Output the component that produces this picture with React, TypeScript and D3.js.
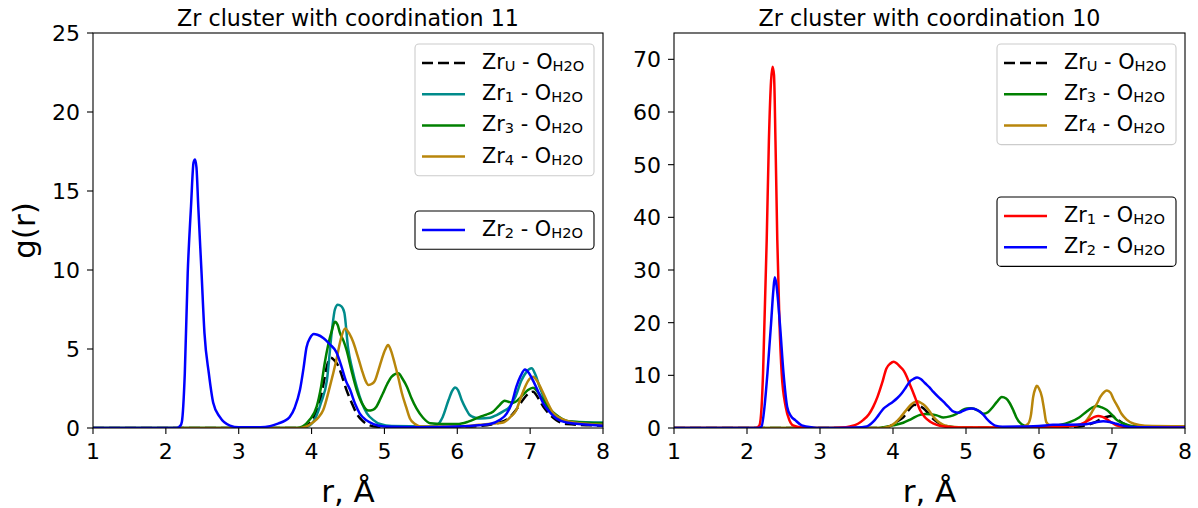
import React from "react";
import * as d3 from "d3";

type Pt = [number, number];

// ---------- Data: left panel (coordination 11) ----------
const zrU_L: Pt[] = [[1,0],[3.8,0],[3.95,0.2],[4.05,0.9],[4.12,1.8],[4.18,3.2],[4.21,3.9],[4.26,4.45],[4.31,4.3],[4.37,3.9],[4.43,3.1],[4.48,2.4],[4.55,1.6],[4.62,0.9],[4.7,0.45],[4.78,0.2],[4.9,0.08],[5.5,0.05],[6.2,0.1],[6.5,0.25],[6.7,0.6],[6.8,1.1],[6.9,1.77],[6.97,2.15],[7.04,2.3],[7.11,1.9],[7.18,1.35],[7.27,0.85],[7.36,0.5],[7.5,0.25],[8,0.15]];
const zr1_L: Pt[] = [[1,0],[3.85,0],[3.95,0.1],[4.05,0.6],[4.13,1.6],[4.21,3.0],[4.28,6.2],[4.32,7.5],[4.36,7.8],[4.41,7.7],[4.45,7.3],[4.5,5.1],[4.56,3.7],[4.62,2.6],[4.69,1.6],[4.76,0.93],[4.85,0.5],[4.94,0.25],[5.1,0.12],[5.6,0.1],[5.72,0.2],[5.8,0.7],[5.88,1.77],[5.93,2.35],[5.97,2.57],[6.01,2.4],[6.06,1.77],[6.12,1.2],[6.17,0.82],[6.25,0.65],[6.31,0.6],[6.45,0.65],[6.54,0.82],[6.63,1.05],[6.72,1.35],[6.8,2.0],[6.88,3.0],[6.95,3.55],[7.02,3.78],[7.07,3.4],[7.13,2.6],[7.2,1.8],[7.27,1.14],[7.36,0.75],[7.45,0.5],[7.6,0.4],[8,0.35]];
const zr3_L: Pt[] = [[1,0],[3.8,0],[3.88,0.1],[3.97,0.5],[4.07,1.35],[4.13,2.6],[4.18,4.1],[4.23,5.3],[4.28,6.2],[4.32,6.73],[4.36,6.5],[4.39,6.0],[4.44,5.5],[4.48,4.94],[4.55,3.6],[4.62,2.4],[4.7,1.5],[4.78,1.1],[4.84,1.15],[4.89,1.35],[4.94,1.8],[4.98,2.2],[5.04,2.8],[5.1,3.25],[5.19,3.46],[5.25,3.1],[5.31,2.6],[5.37,1.9],[5.44,1.24],[5.53,0.65],[5.63,0.3],[5.8,0.25],[6.0,0.25],[6.15,0.4],[6.31,0.7],[6.4,0.85],[6.49,1.03],[6.57,1.4],[6.65,1.73],[6.71,1.65],[6.77,1.6],[6.84,1.8],[6.9,2.09],[6.97,2.4],[7.04,2.55],[7.1,2.3],[7.18,1.77],[7.27,1.2],[7.36,0.82],[7.5,0.45],[8,0.3]];
const zr4_L: Pt[] = [[1,0],[3.85,0],[3.93,0.1],[4.03,0.4],[4.1,0.7],[4.16,1.14],[4.25,2.6],[4.34,4.3],[4.4,5.6],[4.46,6.3],[4.52,5.95],[4.57,5.46],[4.63,4.6],[4.69,3.67],[4.74,3.0],[4.78,2.72],[4.83,2.8],[4.87,3.0],[4.92,3.7],[4.96,4.3],[5.01,4.95],[5.05,5.25],[5.09,4.9],[5.14,4.1],[5.19,3.2],[5.24,2.2],[5.3,1.3],[5.35,0.6],[5.42,0.25],[5.49,0.1],[6.0,0.1],[6.3,0.2],[6.5,0.28],[6.63,0.35],[6.73,0.7],[6.81,1.14],[6.87,1.9],[6.93,2.6],[6.99,3.1],[7.04,3.25],[7.1,2.95],[7.16,2.4],[7.24,1.6],[7.32,0.93],[7.45,0.55],[7.6,0.35],[8,0.2]];
const zr2_L: Pt[] = [[1,0],[2.15,0],[2.2,0.15],[2.22,0.4],[2.26,3.46],[2.3,9.8],[2.345,14],[2.38,16.8],[2.4,17.0],[2.42,16.5],[2.445,14],[2.49,9.8],[2.53,6.0],[2.59,3.46],[2.65,1.6],[2.74,0.7],[2.88,0.15],[3.0,0.05],[3.3,0.05],[3.43,0.12],[3.55,0.3],[3.63,0.45],[3.7,0.7],[3.77,1.3],[3.84,2.4],[3.89,3.8],[3.93,5.1],[3.98,5.7],[4.03,5.95],[4.08,5.9],[4.16,5.7],[4.25,5.3],[4.34,4.8],[4.41,3.9],[4.47,3.0],[4.53,2.4],[4.6,1.5],[4.66,0.93],[4.75,0.5],[4.85,0.25],[5.0,0.1],[5.5,0.05],[6.0,0.1],[6.3,0.18],[6.45,0.25],[6.58,0.5],[6.68,0.93],[6.75,1.6],[6.81,2.6],[6.87,3.3],[6.93,3.7],[6.98,3.5],[7.04,3.0],[7.11,2.3],[7.18,1.56],[7.27,1.0],[7.36,0.6],[7.5,0.35],[8,0.15]];

// ---------- Data: right panel (coordination 10) ----------
const zrU_R: Pt[] = [[1,0],[3.85,0],[3.95,0.3],[4.05,1.2],[4.14,2.0],[4.22,3.5],[4.3,4.4],[4.36,4.2],[4.42,3.7],[4.47,3.0],[4.53,2.0],[4.6,1.2],[4.7,0.5],[4.85,0.15],[5.0,0.05],[6.3,0.1],[6.6,0.4],[6.75,1.0],[6.85,1.7],[6.92,2.1],[7.0,2.3],[7.06,1.8],[7.15,0.9],[7.3,0.3],[8,0.1]];
const zr3_R: Pt[] = [[1,0],[3.8,0],[3.89,0.2],[4.0,0.5],[4.14,1.0],[4.25,1.7],[4.37,2.5],[4.45,2.65],[4.51,2.6],[4.6,2.4],[4.69,2.0],[4.78,2.2],[4.87,2.7],[4.94,3.3],[5.01,3.7],[5.07,3.75],[5.12,3.6],[5.18,3.2],[5.24,2.7],[5.3,3.0],[5.35,3.7],[5.42,4.9],[5.49,5.9],[5.55,5.6],[5.6,4.7],[5.65,3.3],[5.69,2.0],[5.74,1.0],[5.8,0.45],[5.9,0.2],[6.1,0.3],[6.3,0.6],[6.42,1.1],[6.55,2.0],[6.65,3.1],[6.72,3.8],[6.79,4.2],[6.86,3.9],[6.93,3.4],[7.0,2.5],[7.06,1.6],[7.15,0.9],[7.25,0.45],[7.4,0.25],[8,0.2]];
const zr4_R: Pt[] = [[1,0],[3.85,0],[3.95,0.3],[4.03,1.0],[4.1,2.0],[4.17,3.2],[4.23,4.2],[4.28,4.8],[4.33,5.1],[4.38,4.8],[4.44,4.2],[4.5,3.2],[4.55,2.2],[4.62,1.2],[4.69,0.6],[4.8,0.25],[5.0,0.1],[5.6,0.1],[5.78,0.3],[5.85,0.8],[5.89,2.5],[5.92,5.9],[5.95,7.5],[5.97,8.0],[6.0,7.5],[6.04,5.9],[6.07,3.5],[6.1,1.1],[6.15,0.5],[6.25,0.3],[6.45,0.5],[6.6,0.7],[6.67,1.8],[6.74,3.4],[6.8,4.8],[6.84,5.9],[6.89,6.8],[6.93,7.1],[6.98,6.7],[7.02,5.5],[7.08,4.0],[7.13,2.7],[7.2,1.6],[7.3,0.8],[7.45,0.45],[8,0.35]];
const zr1_R: Pt[] = [[1,0],[2.12,0],[2.17,0.5],[2.2,4.05],[2.22,10.4],[2.27,35.7],[2.3,54.6],[2.33,66],[2.35,68.6],[2.37,67],[2.39,54.6],[2.415,35.7],[2.445,20],[2.475,10.4],[2.53,4.05],[2.58,1.5],[2.63,0.5],[2.75,0.1],[3.0,0],[3.3,0.1],[3.41,0.3],[3.52,0.8],[3.59,1.5],[3.67,2.6],[3.73,4.05],[3.79,6.0],[3.85,8.5],[3.91,11.3],[3.96,12.2],[4.01,12.6],[4.05,12.3],[4.1,11.6],[4.15,10.8],[4.19,9.7],[4.23,8.3],[4.28,6.6],[4.33,4.8],[4.37,3.4],[4.44,2.0],[4.51,1.2],[4.6,0.6],[4.7,0.3],[4.9,0.1],[6.0,0.1],[6.3,0.25],[6.52,0.5],[6.62,1.0],[6.7,1.65],[6.76,2.1],[6.81,2.28],[6.87,2.1],[6.93,1.65],[7.0,1.0],[7.06,0.5],[7.15,0.25],[7.3,0.15],[8,0.1]];
const zr2_R: Pt[] = [[1,0],[2.15,0],[2.2,0.3],[2.24,4.05],[2.28,10.4],[2.33,19.9],[2.36,26],[2.38,28.6],[2.4,27.5],[2.45,19.9],[2.5,10.4],[2.55,4.05],[2.6,2.3],[2.66,1.5],[2.75,0.5],[2.9,0.1],[3.0,0],[3.5,0.1],[3.64,0.3],[3.73,1.2],[3.8,2.4],[3.87,3.7],[3.94,4.4],[4.0,5.0],[4.06,5.7],[4.12,6.6],[4.18,7.8],[4.23,8.8],[4.28,9.3],[4.33,9.6],[4.38,9.3],[4.44,8.5],[4.5,7.7],[4.55,6.9],[4.62,5.9],[4.69,5.0],[4.76,4.0],[4.83,3.1],[4.9,2.9],[4.94,3.1],[5.0,3.5],[5.08,3.7],[5.14,3.5],[5.19,3.1],[5.24,2.5],[5.28,1.8],[5.34,1.0],[5.4,0.45],[5.5,0.25],[6.0,0.4],[6.19,0.6],[6.6,0.65],[6.75,1.0],[6.88,1.3],[6.97,1.15],[7.06,0.8],[7.15,0.45],[7.25,0.2],[8,0.1]];

const xTicks = [1, 2, 3, 4, 5, 6, 7, 8];
const yTicksL = [0, 5, 10, 15, 20, 25];
const yTicksR = [0, 10, 20, 30, 40, 50, 60, 70];

const FONT = "DejaVu Sans, sans-serif";
const LEG_FS = 20.8;
const SUB_FS = 14.6;
const TICK_FS = 22;
const TITLE_FS = 22.2;
const AXLABEL_FS = 31;
const LW = 2.5;
const DASH = "11,5";

type Series = { data: Pt[]; color: string; dash?: string; sub: string };
type LegendSpec = { top: number; items: Series[]; edge: string };

const C = {
  black: "#000000",
  teal: "#008b8b",
  green: "#008000",
  gold: "#b8860b",
  blue: "#0000ff",
  red: "#ff0000",
};

const Label: React.FC<{ x: number; y: number; sub: string }> = ({ x, y, sub }) => (
  <text x={x} y={y} fontFamily={FONT} fontSize={LEG_FS} dominantBaseline="middle">
    Zr
    <tspan fontSize={SUB_FS} dy={4}>{sub}</tspan>
    <tspan dy={-4}> - O</tspan>
    <tspan fontSize={SUB_FS} dy={4}>H2O</tspan>
  </text>
);

const Panel: React.FC<{
  left: number;
  right: number;
  top: number;
  bottom: number;
  yMax: number;
  yTicks: number[];
  title: string;
  series: Series[];
  legends: LegendSpec[];
  showYLabel: boolean;
  clipId: string;
}> = ({ left, right, top, bottom, yMax, yTicks, title, series, legends, showYLabel, clipId }) => {
  const x = d3.scaleLinear().domain([1, 8]).range([left, right]);
  const y = d3.scaleLinear().domain([0, yMax]).range([bottom, top]);
  const line = d3
    .line<Pt>()
    .x((d) => x(d[0]))
    .y((d) => y(d[1]))
    .curve(d3.curveMonotoneX);
  const legW = 179;
  const rowH = 31.2;
  return (
    <g>
      <defs>
        <clipPath id={clipId}>
          <rect x={left} y={top} width={right - left} height={bottom - top} />
        </clipPath>
      </defs>
      <g clipPath={`url(#${clipId})`}>
        {series.map((s, i) => (
          <path
            key={i}
            d={line(s.data) || ""}
            fill="none"
            stroke={s.color}
            strokeWidth={LW}
            strokeDasharray={s.dash}
            strokeLinejoin="round"
          />
        ))}
      </g>
      <rect x={left} y={top} width={right - left} height={bottom - top} fill="none" stroke="#000" strokeWidth={1.1} />
      {xTicks.map((t) => (
        <g key={t}>
          <line x1={x(t)} x2={x(t)} y1={bottom} y2={bottom + 6} stroke="#000" strokeWidth={1.1} />
          <text x={x(t)} y={bottom + 31} textAnchor="middle" fontFamily={FONT} fontSize={TICK_FS}>
            {t}
          </text>
        </g>
      ))}
      {yTicks.map((t) => (
        <g key={t}>
          <line x1={left - 6} x2={left} y1={y(t)} y2={y(t)} stroke="#000" strokeWidth={1.1} />
          <text x={left - 13} y={y(t)} dy="0.36em" textAnchor="end" fontFamily={FONT} fontSize={TICK_FS}>
            {t}
          </text>
        </g>
      ))}
      <text x={(left + right) / 2} y={26} textAnchor="middle" fontFamily={FONT} fontSize={TITLE_FS}>
        {title}
      </text>
      <text x={(left + right) / 2} y={502} textAnchor="middle" fontFamily={FONT} fontSize={AXLABEL_FS}>
        r, Å
      </text>
      {showYLabel && (
        <text
          transform={`translate(35,${(top + bottom) / 2}) rotate(-90)`}
          textAnchor="middle"
          fontFamily={FONT}
          fontSize={AXLABEL_FS}
        >
          g(r)
        </text>
      )}
      {legends.map((lg, li) => {
        const lx = right - 9 - legW;
        const h = lg.items.length * rowH + 7;
        return (
          <g key={li}>
            <rect
              x={lx}
              y={lg.top}
              width={legW}
              height={h}
              rx={4}
              fill="#fff"
              fillOpacity={0.8}
              stroke={lg.edge}
              strokeWidth={1.1}
            />
            {lg.items.map((s, i) => {
              const cy = lg.top + 19 + i * rowH;
              return (
                <g key={i}>
                  <line
                    x1={lx + 7}
                    x2={lx + 50}
                    y1={cy}
                    y2={cy}
                    stroke={s.color}
                    strokeWidth={LW}
                    strokeDasharray={s.dash}
                  />
                  <Label x={lx + 67} y={cy} sub={s.sub} />
                </g>
              );
            })}
          </g>
        );
      })}
    </g>
  );
};

export default function App() {
  const sU_L: Series = { data: zrU_L, color: C.black, dash: DASH, sub: "U" };
  const s1_L: Series = { data: zr1_L, color: C.teal, sub: "1" };
  const s3_L: Series = { data: zr3_L, color: C.green, sub: "3" };
  const s4_L: Series = { data: zr4_L, color: C.gold, sub: "4" };
  const s2_L: Series = { data: zr2_L, color: C.blue, sub: "2" };

  const sU_R: Series = { data: zrU_R, color: C.black, dash: DASH, sub: "U" };
  const s3_R: Series = { data: zr3_R, color: C.green, sub: "3" };
  const s4_R: Series = { data: zr4_R, color: C.gold, sub: "4" };
  const s1_R: Series = { data: zr1_R, color: C.red, sub: "1" };
  const s2_R: Series = { data: zr2_R, color: C.blue, sub: "2" };

  return (
    <svg
      width={1198}
      height={508}
      style={{ position: "absolute", left: 0, top: 0, background: "#fff" }}
    >
      <rect width={1198} height={508} fill="#fff" />
      <Panel
        left={93}
        right={603}
        top={33}
        bottom={428}
        yMax={25}
        yTicks={yTicksL}
        title="Zr cluster with coordination 11"
        series={[sU_L, s1_L, s3_L, s4_L, s2_L]}
        legends={[
          { top: 44, items: [sU_L, s1_L, s3_L, s4_L], edge: "#cccccc" },
          { top: 211, items: [s2_L], edge: "#000000" },
        ]}
        showYLabel={true}
        clipId="clipL"
      />
      <Panel
        left={674}
        right={1185}
        top={33}
        bottom={428}
        yMax={75}
        yTicks={yTicksR}
        title="Zr cluster with coordination 10"
        series={[sU_R, s3_R, s4_R, s1_R, s2_R]}
        legends={[
          { top: 44, items: [sU_R, s3_R, s4_R], edge: "#cccccc" },
          { top: 197, items: [s1_R, s2_R], edge: "#000000" },
        ]}
        showYLabel={false}
        clipId="clipR"
      />
    </svg>
  );
}
